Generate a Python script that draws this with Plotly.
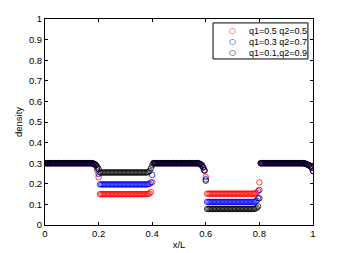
import plotly.graph_objects as go

# ---------------- data ----------------
x_pos = [
    0.000, 0.005, 0.010, 0.015, 0.020, 0.025, 0.030, 0.035, 0.040, 0.045,
    0.050, 0.055, 0.060, 0.065, 0.070, 0.075, 0.080, 0.085, 0.090, 0.095,
    0.100, 0.105, 0.110, 0.115, 0.120, 0.125, 0.130, 0.135, 0.140, 0.145,
    0.150, 0.155, 0.160, 0.165, 0.170, 0.175, 0.180, 0.185, 0.190, 0.195,
    0.200, 0.205, 0.210, 0.215, 0.220, 0.225, 0.230, 0.235, 0.240, 0.245,
    0.250, 0.255, 0.260, 0.265, 0.270, 0.275, 0.280, 0.285, 0.290, 0.295,
    0.300, 0.305, 0.310, 0.315, 0.320, 0.325, 0.330, 0.335, 0.340, 0.345,
    0.350, 0.355, 0.360, 0.365, 0.370, 0.375, 0.380, 0.385, 0.390, 0.395,
    0.400, 0.405, 0.410, 0.415, 0.420, 0.425, 0.430, 0.435, 0.440, 0.445,
    0.450, 0.455, 0.460, 0.465, 0.470, 0.475, 0.480, 0.485, 0.490, 0.495,
    0.500, 0.505, 0.510, 0.515, 0.520, 0.525, 0.530, 0.535, 0.540, 0.545,
    0.550, 0.555, 0.560, 0.565, 0.570, 0.575, 0.580, 0.585, 0.590, 0.595,
    0.600, 0.605, 0.610, 0.615, 0.620, 0.625, 0.630, 0.635, 0.640, 0.645,
    0.650, 0.655, 0.660, 0.665, 0.670, 0.675, 0.680, 0.685, 0.690, 0.695,
    0.700, 0.705, 0.710, 0.715, 0.720, 0.725, 0.730, 0.735, 0.740, 0.745,
    0.750, 0.755, 0.760, 0.765, 0.770, 0.775, 0.780, 0.785, 0.790, 0.795,
    0.800, 0.805, 0.810, 0.815, 0.820, 0.825, 0.830, 0.835, 0.840, 0.845,
    0.850, 0.855, 0.860, 0.865, 0.870, 0.875, 0.880, 0.885, 0.890, 0.895,
    0.900, 0.905, 0.910, 0.915, 0.920, 0.925, 0.930, 0.935, 0.940, 0.945,
    0.950, 0.955, 0.960, 0.965, 0.970, 0.975, 0.980, 0.985, 0.990, 0.995,
    1.000,
]

density_q1_05 = [
    0.3, 0.3, 0.3, 0.3, 0.3, 0.3, 0.3, 0.3, 0.3, 0.3,
    0.3, 0.3, 0.3, 0.3, 0.3, 0.3, 0.3, 0.3, 0.3, 0.3,
    0.3, 0.3, 0.3, 0.3, 0.3, 0.3, 0.3, 0.3, 0.3, 0.3,
    0.3, 0.3, 0.3, 0.3, 0.3, 0.3, 0.298, 0.295, 0.29, 0.265,
    0.232, 0.15, 0.15, 0.15, 0.15, 0.15, 0.15, 0.15, 0.15, 0.15,
    0.15, 0.15, 0.15, 0.15, 0.15, 0.15, 0.15, 0.15, 0.15, 0.15,
    0.15, 0.15, 0.15, 0.15, 0.15, 0.15, 0.15, 0.15, 0.15, 0.15,
    0.15, 0.15, 0.15, 0.15, 0.15, 0.15, 0.15, 0.151, 0.153, 0.16,
    0.207, 0.3, 0.3, 0.3, 0.3, 0.3, 0.3, 0.3, 0.3, 0.3,
    0.3, 0.3, 0.3, 0.3, 0.3, 0.3, 0.3, 0.3, 0.3, 0.3,
    0.3, 0.3, 0.3, 0.3, 0.3, 0.3, 0.3, 0.3, 0.3, 0.3,
    0.3, 0.3, 0.3, 0.3, 0.3, 0.298, 0.295, 0.29, 0.28, 0.265,
    0.233, 0.152, 0.152, 0.152, 0.152, 0.152, 0.152, 0.152, 0.152, 0.152,
    0.152, 0.152, 0.152, 0.152, 0.152, 0.152, 0.152, 0.152, 0.152, 0.152,
    0.152, 0.152, 0.152, 0.152, 0.152, 0.152, 0.152, 0.152, 0.152, 0.152,
    0.152, 0.152, 0.152, 0.152, 0.152, 0.152, 0.152, 0.153, 0.157, 0.165,
    0.207, 0.3, 0.3, 0.3, 0.3, 0.3, 0.3, 0.3, 0.3, 0.3,
    0.3, 0.3, 0.3, 0.3, 0.3, 0.3, 0.3, 0.3, 0.3, 0.3,
    0.3, 0.3, 0.3, 0.3, 0.3, 0.3, 0.3, 0.3, 0.3, 0.3,
    0.3, 0.3, 0.3, 0.3, 0.298, 0.296, 0.293, 0.29, 0.285, 0.278,
    0.262,
]

density_q1_03 = [
    0.3, 0.3, 0.3, 0.3, 0.3, 0.3, 0.3, 0.3, 0.3, 0.3,
    0.3, 0.3, 0.3, 0.3, 0.3, 0.3, 0.3, 0.3, 0.3, 0.3,
    0.3, 0.3, 0.3, 0.3, 0.3, 0.3, 0.3, 0.3, 0.3, 0.3,
    0.3, 0.3, 0.3, 0.3, 0.3, 0.3, 0.298, 0.295, 0.29, 0.275,
    0.248, 0.197, 0.197, 0.197, 0.197, 0.197, 0.197, 0.197, 0.197, 0.197,
    0.197, 0.197, 0.197, 0.197, 0.197, 0.197, 0.197, 0.197, 0.197, 0.197,
    0.197, 0.197, 0.197, 0.197, 0.197, 0.197, 0.197, 0.197, 0.197, 0.197,
    0.197, 0.197, 0.197, 0.197, 0.197, 0.197, 0.197, 0.198, 0.2, 0.207,
    0.243, 0.3, 0.3, 0.3, 0.3, 0.3, 0.3, 0.3, 0.3, 0.3,
    0.3, 0.3, 0.3, 0.3, 0.3, 0.3, 0.3, 0.3, 0.3, 0.3,
    0.3, 0.3, 0.3, 0.3, 0.3, 0.3, 0.3, 0.3, 0.3, 0.3,
    0.3, 0.3, 0.3, 0.3, 0.3, 0.298, 0.295, 0.29, 0.28, 0.265,
    0.222, 0.112, 0.112, 0.112, 0.112, 0.112, 0.112, 0.112, 0.112, 0.112,
    0.112, 0.112, 0.112, 0.112, 0.112, 0.112, 0.112, 0.112, 0.112, 0.112,
    0.112, 0.112, 0.112, 0.112, 0.112, 0.112, 0.112, 0.112, 0.112, 0.112,
    0.112, 0.112, 0.112, 0.112, 0.112, 0.112, 0.112, 0.114, 0.118, 0.13,
    0.17, 0.3, 0.3, 0.3, 0.3, 0.3, 0.3, 0.3, 0.3, 0.3,
    0.3, 0.3, 0.3, 0.3, 0.3, 0.3, 0.3, 0.3, 0.3, 0.3,
    0.3, 0.3, 0.3, 0.3, 0.3, 0.3, 0.3, 0.3, 0.3, 0.3,
    0.3, 0.3, 0.3, 0.3, 0.298, 0.296, 0.293, 0.29, 0.285, 0.278,
    0.262,
]

density_q1_01 = [
    0.3, 0.3, 0.3, 0.3, 0.3, 0.3, 0.3, 0.3, 0.3, 0.3,
    0.3, 0.3, 0.3, 0.3, 0.3, 0.3, 0.3, 0.3, 0.3, 0.3,
    0.3, 0.3, 0.3, 0.3, 0.3, 0.3, 0.3, 0.3, 0.3, 0.3,
    0.3, 0.3, 0.3, 0.3, 0.3, 0.3, 0.298, 0.295, 0.29, 0.283,
    0.272, 0.255, 0.255, 0.255, 0.255, 0.255, 0.255, 0.255, 0.255, 0.255,
    0.255, 0.255, 0.255, 0.255, 0.255, 0.255, 0.255, 0.255, 0.255, 0.255,
    0.255, 0.255, 0.255, 0.255, 0.255, 0.255, 0.255, 0.255, 0.255, 0.255,
    0.255, 0.255, 0.255, 0.255, 0.255, 0.255, 0.255, 0.257, 0.262, 0.275,
    0.29, 0.3, 0.3, 0.3, 0.3, 0.3, 0.3, 0.3, 0.3, 0.3,
    0.3, 0.3, 0.3, 0.3, 0.3, 0.3, 0.3, 0.3, 0.3, 0.3,
    0.3, 0.3, 0.3, 0.3, 0.3, 0.3, 0.3, 0.3, 0.3, 0.3,
    0.3, 0.3, 0.3, 0.3, 0.3, 0.298, 0.295, 0.29, 0.28, 0.265,
    0.215, 0.078, 0.078, 0.078, 0.078, 0.078, 0.078, 0.078, 0.078, 0.078,
    0.078, 0.078, 0.078, 0.078, 0.078, 0.078, 0.078, 0.078, 0.078, 0.078,
    0.078, 0.078, 0.078, 0.078, 0.078, 0.078, 0.078, 0.078, 0.078, 0.078,
    0.078, 0.078, 0.078, 0.078, 0.078, 0.078, 0.078, 0.08, 0.083, 0.09,
    0.13, 0.3, 0.3, 0.3, 0.3, 0.3, 0.3, 0.3, 0.3, 0.3,
    0.3, 0.3, 0.3, 0.3, 0.3, 0.3, 0.3, 0.3, 0.3, 0.3,
    0.3, 0.3, 0.3, 0.3, 0.3, 0.3, 0.3, 0.3, 0.3, 0.3,
    0.3, 0.3, 0.3, 0.3, 0.298, 0.296, 0.293, 0.29, 0.285, 0.278,
    0.262,
]

series_labels = ["q1=0.5 q2=0.5", "q1=0.3 q2=0.7", "q1=0.1,q2=0.9"]
series_colors = ["#ff0000", "#0000ff", "#000000"]

x_tick_vals = [0, 0.2, 0.4, 0.6, 0.8, 1]
x_tick_text = ["0", "0.2", "0.4", "0.6", "0.8", "1"]
y_tick_vals = [0, 0.1, 0.2, 0.3, 0.4, 0.5, 0.6, 0.7, 0.8, 0.9, 1]
y_tick_text = ["0", "0.1", "0.2", "0.3", "0.4", "0.5", "0.6", "0.7", "0.8", "0.9", "1"]

# ---------------- figure ----------------
FONT = "Liberation Sans, Arial, sans-serif"
fig = go.Figure()
all_series = [density_q1_05, density_q1_03, density_q1_01]
for vals, name, col in zip(all_series, series_labels, series_colors):
    fig.add_trace(go.Scatter(
        x=x_pos, y=vals, mode="markers", name=name,
        marker=dict(symbol="circle-open", size=5.5, color=col,
                    line=dict(width=0.75, color=col)),
        showlegend=False,
    ))

# compact MATLAB-style legend built from shapes/annotations
lx0, lx1, ly0, ly1 = 0.627, 0.981, 0.806, 0.981
fig.add_shape(type="rect", xref="paper", yref="paper",
              x0=lx0, x1=lx1, y0=ly0, y1=ly1,
              line=dict(color="black", width=1), fillcolor="white", layer="above")
row_y = [0.942, 0.889, 0.836]
for name, col, yy in zip(series_labels, series_colors, row_y):
    fig.add_annotation(xref="paper", yref="paper", x=0.698, y=yy,
                       text="○", showarrow=False, xanchor="center", yanchor="middle",
                       font=dict(family="DejaVu Sans", size=8, color=col))
    fig.add_annotation(xref="paper", yref="paper", x=0.755, y=yy,
                       text=name, showarrow=False, xanchor="left", yanchor="middle",
                       font=dict(family=FONT, size=9, color="black"))

axis_common = dict(
    showgrid=False, zeroline=False, showline=True, linecolor="black", linewidth=1,
    mirror="ticks", ticks="inside", ticklen=3, tickcolor="black", tickwidth=1,
    tickfont=dict(family=FONT, size=9.5, color="black"),
)
fig.update_xaxes(range=[0, 1], tickvals=x_tick_vals, ticktext=x_tick_text,
                 title=dict(text="x/L", font=dict(family=FONT, size=9.5, color="black"),
                            standoff=2),
                 **axis_common)
fig.update_yaxes(range=[0, 1], tickvals=y_tick_vals, ticktext=y_tick_text,
                 title=dict(text="density", font=dict(family=FONT, size=9.5, color="black"),
                            standoff=4),
                 **axis_common)

# the page body adds an 8px offset; size the figure so the plot area lands
# at the same place as in the reference window
fig.update_layout(
    width=338, height=245,
    margin=dict(l=37, r=33, t=11, b=28, autoexpand=False),
    paper_bgcolor="white", plot_bgcolor="white",
    font=dict(family=FONT, size=9.5, color="black"),
)

fig.write_html("out.html")
